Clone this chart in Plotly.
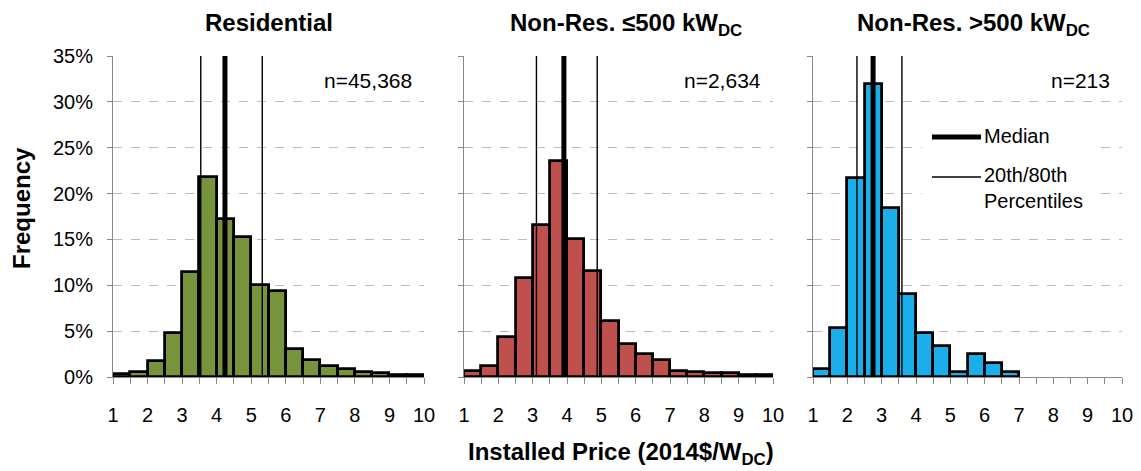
import plotly.graph_objects as go

# ---- data ----
bin_centers = [1.25, 1.75, 2.25, 2.75, 3.25, 3.75, 4.25, 4.75, 5.25,
               5.75, 6.25, 6.75, 7.25, 7.75, 8.25, 8.75, 9.25, 9.75]
residential = [0.36, 0.6, 1.7, 4.8, 11.5, 21.8, 17.2, 15.3, 10.0,
               9.35, 3.1, 1.9, 1.2, 0.9, 0.55, 0.4, 0.25, 0.2]
nonres_small = [0.65, 1.2, 4.4, 10.8, 16.6, 23.5, 15.1, 11.6, 6.15,
                3.6, 2.55, 1.8, 0.7, 0.55, 0.45, 0.4, 0.25, 0.25]
nonres_large = [0.9, 5.3, 21.7, 32.0, 18.4, 9.0, 4.8, 3.4, 0.6,
                2.5, 1.5, 0.6, None, None, None, None, None, None]

panel_titles = ["Residential", "Non-Res. ≤500 kW<sub>DC</sub>", "Non-Res. >500 kW<sub>DC</sub>"]
sample_sizes = ["n=45,368", "n=2,634", "n=213"]
p20 = [3.54, 3.11, 2.28]
median = [4.24, 3.91, 2.75]
p80 = [5.32, 4.88, 3.59]
colors = ["#77933C", "#C0504D", "#1AAFEA"]
x_ticks = [1, 2, 3, 4, 5, 6, 7, 8, 9, 10]
y_ticks = [0, 5, 10, 15, 20, 25, 30, 35]
y_ticktext = ["0%", "5%", "10%", "15%", "20%", "25%", "30%", "35%"]

series = [residential, nonres_small, nonres_large]

# page body has an 8px margin; size the figure so it fits the window
OFF = 8
W, H = 1141 - OFF, 471 - OFF


def px(x):
    return (x - OFF) / W


def py(y):
    return 1 - (y - OFF) / H


x_domains = [[px(113), px(424)], [px(464), px(773)], [px(813), px(1122)]]
y_domain = [py(377), py(56)]

FONT = "Liberation Sans, Arial, sans-serif"

fig = go.Figure()

for i in range(3):
    xa = "x" if i == 0 else f"x{i+1}"
    ya = "y" if i == 0 else f"y{i+1}"
    fig.add_trace(go.Bar(
        x=bin_centers, y=series[i], width=0.5,
        marker=dict(color=colors[i], line=dict(color="black", width=2.8)),
        xaxis=xa, yaxis=ya, showlegend=False, hoverinfo="skip"))
    for val, w in [(p20[i], 1.4), (p80[i], 1.4), (median[i], 5)]:
        fig.add_trace(go.Scatter(
            x=[val, val], y=[0, 35], mode="lines",
            line=dict(color="black", width=w),
            xaxis=xa, yaxis=ya, showlegend=False, hoverinfo="skip"))

layout = dict(
    width=W, height=H,
    margin=dict(l=0, r=0, t=0, b=0, autoexpand=False),
    paper_bgcolor="white", plot_bgcolor="white",
    bargap=0, showlegend=False,
)

for i in range(3):
    xk = "xaxis" if i == 0 else f"xaxis{i+1}"
    yk = "yaxis" if i == 0 else f"yaxis{i+1}"
    ya = "y" if i == 0 else f"y{i+1}"
    xa = "x" if i == 0 else f"x{i+1}"
    layout[xk] = dict(
        domain=x_domains[i], anchor=ya, range=[1, 10], automargin=False,
        tickvals=x_ticks, ticktext=[str(v) for v in x_ticks],
        ticks="outside", ticklen=6, tickcolor="#888888", tickwidth=1,
        minor=dict(dtick=0.5, tick0=1, ticks="outside", ticklen=6, tickcolor="#888888", showgrid=False),
        showline=True, linecolor="#888888", linewidth=1,
        showgrid=False, zeroline=False,
        tickfont=dict(family=FONT, size=20, color="black"),
        ticklabelstandoff=14,
    )
    layout[yk] = dict(
        domain=y_domain, anchor=xa, range=[0, 35], automargin=False,
        tickvals=y_ticks, ticktext=y_ticktext,
        showticklabels=(i == 0),
        ticks="outside", ticklen=5, tickcolor="#888888",
        showline=True, linecolor="#888888", linewidth=1,
        showgrid=True, gridcolor="#BBBBBB", griddash="dash", gridwidth=1,
        zeroline=False,
        tickfont=dict(family=FONT, size=20, color="black"),
        ticklabelstandoff=10,
    )

fig.update_layout(**layout)

annotations = []
title_x = [269, 626, 973]
title_y = [23, 25, 25]
for i in range(3):
    annotations.append(dict(
        text=f"<b>{panel_titles[i]}</b>", x=px(title_x[i]), y=py(title_y[i]),
        xref="paper", yref="paper", showarrow=False,
        font=dict(family=FONT, size=24, color="black"), xanchor="center", yanchor="middle"))
    annotations.append(dict(
        text=sample_sizes[i], x=x_domains[i][1] - 10 / W, y=py(80),
        xref="paper", yref="paper", showarrow=False,
        font=dict(family=FONT, size=21, color="black"), xanchor="right", yanchor="middle"))

annotations.append(dict(
    text="<b>Installed Price (2014$/W<sub>DC</sub>)</b>", x=px(621),
    y=py(453), xref="paper", yref="paper", showarrow=False,
    font=dict(family=FONT, size=24, color="black"), xanchor="center", yanchor="middle"))
annotations.append(dict(
    text="<b>Frequency</b>", x=px(21), y=py(208), textangle=-90,
    xref="paper", yref="paper", showarrow=False,
    font=dict(family=FONT, size=24, color="black"), xanchor="center", yanchor="middle"))

# legend (drawn in panel 3)
annotations.append(dict(
    text="Median", x=px(982), y=py(136), xref="paper", yref="paper", showarrow=False,
    font=dict(family=FONT, size=20, color="black"), xanchor="left", yanchor="middle"))
annotations.append(dict(
    text="20th/80th<br>Percentiles", x=px(982), y=py(188), xref="paper", yref="paper",
    showarrow=False, align="left",
    font=dict(family=FONT, size=20, color="black"), xanchor="left", yanchor="middle"))
fig.update_layout(annotations=annotations)

shapes = [
    dict(type="rect", xref="paper", yref="paper", x0=px(922), x1=px(1097),
         y0=py(218), y1=py(114), fillcolor="white", line=dict(width=0), layer="above"),
    dict(type="line", xref="paper", yref="paper", x0=px(932), x1=px(981),
         y0=py(137), y1=py(137), line=dict(color="black", width=5), layer="above"),
    dict(type="line", xref="paper", yref="paper", x0=px(932), x1=px(981),
         y0=py(177), y1=py(177), line=dict(color="black", width=1.4), layer="above"),
]
fig.update_layout(shapes=shapes)

fig.write_html("out.html")
